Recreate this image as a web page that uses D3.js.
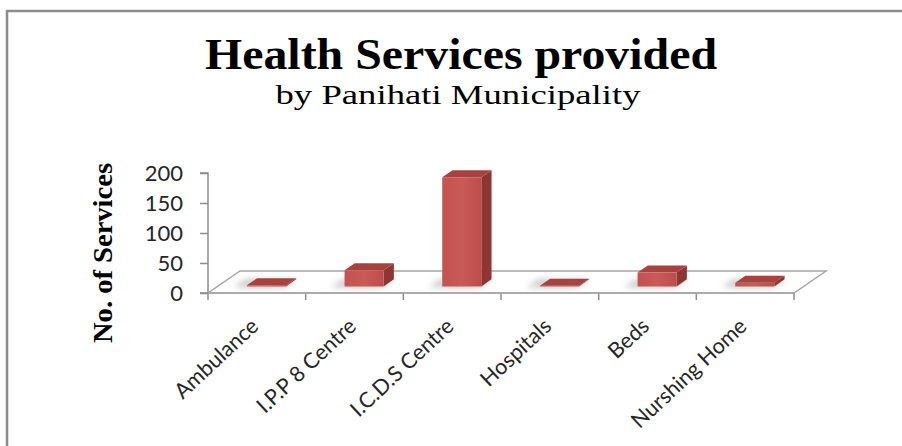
<!DOCTYPE html>
<html lang="en">
  <head>
    <meta charset="utf-8" />
    <script src="https://d3js.org/d3.v7.min.js"></script>
    <style>
      body { margin: 0; background: #fff; }
      .tick text { font-family: Lato, "Open Sans", sans-serif; fill: #262626; }
    </style>
  </head>
  <body>
    <svg id="chart" width="902" height="446"></svg>
    <script>
      // chart data
      const categories = ["Ambulance", "I.P.P 8 Centre", "I.C.D.S Centre", "Hospitals", "Beds", "Nurshing Home"];
      const services = [2, 27, 182, 1, 23, 6];
      const yTicks = [0, 50, 100, 150, 200];

      const svg = d3.select("svg#chart");

      // outer frame (runs off the right and bottom edge)
      svg.append("rect")
        .attr("x", 7).attr("y", 11)
        .attr("width", 1000).attr("height", 1000)
        .attr("fill", "none")
        .attr("stroke", "#8c8c8c")
        .attr("stroke-width", 2.5);

      // titles
      svg.append("text")
        .attr("x", 461).attr("y", 69)
        .attr("text-anchor", "middle")
        .attr("font-family", "'Liberation Serif', serif")
        .attr("font-weight", "bold")
        .attr("font-size", 45)
        .attr("textLength", 512)
        .attr("lengthAdjust", "spacingAndGlyphs")
        .text("Health Services provided");
      svg.append("text")
        .attr("x", 458).attr("y", 104)
        .attr("text-anchor", "middle")
        .attr("font-family", "'Liberation Serif', serif")
        .attr("font-size", 28)
        .attr("textLength", 365)
        .attr("lengthAdjust", "spacingAndGlyphs")
        .text("by Panihati Municipality");

      svg.append("text")
        .attr("transform", "translate(112,253) rotate(-90)")
        .attr("text-anchor", "middle")
        .attr("font-family", "'Liberation Serif', serif")
        .attr("font-weight", "bold")
        .attr("font-size", 28)
        .attr("textLength", 180)
        .attr("lengthAdjust", "spacingAndGlyphs")
        .text("No. of Services");

      // scales
      const x = d3.scaleBand().domain(categories).range([208, 794]);
      const y = d3.scaleLinear().domain([0, 200]).range([293, 173]);
      const depthX = 32, depthY = -22;
      const proj = (px, py, d) => [px + d * depthX, py + d * depthY];

      const defs = svg.append("defs");
      defs.append("filter").attr("id", "blur")
        .attr("x", "-50%").attr("y", "-50%").attr("width", "200%").attr("height", "200%")
        .append("feGaussianBlur").attr("stdDeviation", 3);
      const grad = defs.append("linearGradient").attr("id", "front")
        .attr("x1", 0).attr("x2", 1).attr("y1", 0).attr("y2", 0);
      grad.append("stop").attr("offset", "0%").attr("stop-color", "#c4524f");
      grad.append("stop").attr("offset", "50%").attr("stop-color", "#c95a57");
      grad.append("stop").attr("offset", "100%").attr("stop-color", "#bd4d4a");

      // floor
      const floor = [proj(208, 293, 0), proj(794, 293, 0), proj(794, 293, 1), proj(208, 293, 1)];
      svg.append("polygon")
        .attr("points", floor.map(p => p.join(",")).join(" "))
        .attr("fill", "#fff")
        .attr("stroke", "#a6a6a6")
        .attr("stroke-width", 1.5);

      // y axis
      const yAxis = svg.append("g")
        .attr("transform", "translate(208,0)")
        .call(d3.axisLeft(y).tickValues(yTicks).tickSize(8).tickPadding(17));
      yAxis.selectAll("line, path").attr("stroke", "#8c8c8c").attr("stroke-width", 1.5);
      yAxis.select(".domain").attr("d", "M-8," + y(200) + "H0V" + y(0) + "H-8");
      yAxis.selectAll(".tick text").attr("font-size", 22);

      // x axis: ticks at band edges, labels rotated
      const edges = categories.map(c => x(c)).concat([x.range()[1]]);
      svg.selectAll("line.xtick").data(edges).join("line")
        .attr("class", "xtick")
        .attr("x1", d => d).attr("x2", d => d)
        .attr("y1", 293).attr("y2", 300)
        .attr("stroke", "#8c8c8c").attr("stroke-width", 1.5);
      svg.append("line")
        .attr("x1", 208).attr("x2", 794).attr("y1", 293).attr("y2", 293)
        .attr("stroke", "#a6a6a6").attr("stroke-width", 1.5);

      const xAxis = svg.append("g")
        .attr("transform", "translate(0,293)")
        .call(d3.axisBottom(x).tickSize(0).tickPadding(0));
      xAxis.select(".domain").remove();
      xAxis.selectAll(".tick text")
        .attr("font-size", 21.5)
        .attr("text-anchor", "end")
        .attr("dy", 0)
        .attr("transform", "translate(3,35) rotate(-43)");

      // bars
      const d0 = 0.3, d1 = 0.62, barW = x.bandwidth() * 0.4;
      const bars = svg.append("g");
      categories.forEach((c, i) => {
        const v = services[i];
        const cx = x(c) + x.bandwidth() / 2;
        const xl = cx - barW / 2, xr = cx + barW / 2;
        const g = bars.append("g");
        // soft shadow on the floor
        const sh = [proj(xl - 12, y(0), d0 - 0.05), proj(xr, y(0), d0 - 0.05),
                    proj(xr, y(0), d1), proj(xl - 12, y(0), d1)];
        g.append("polygon")
          .attr("points", sh.map(p => p.join(",")).join(" "))
          .attr("fill", "#a8a8a8").attr("opacity", 0.6)
          .attr("filter", "url(#blur)");
        const fbl = proj(xl, y(0), d0), fbr = proj(xr, y(0), d0);
        const ftl = proj(xl, y(v), d0), ftr = proj(xr, y(v), d0);
        const btl = proj(xl, y(v), d1), btr = proj(xr, y(v), d1), bbr = proj(xr, y(0), d1);
        g.append("polygon")
          .attr("points", [fbr, bbr, btr, ftr].map(p => p.join(",")).join(" "))
          .attr("fill", "#8e3633");
        g.append("polygon")
          .attr("points", [ftl, ftr, btr, btl].map(p => p.join(",")).join(" "))
          .attr("fill", "#a8423f");
        g.append("polygon")
          .attr("points", [fbl, fbr, ftr, ftl].map(p => p.join(",")).join(" "))
          .attr("fill", "url(#front)");
      });
    </script>
  </body>
</html>
